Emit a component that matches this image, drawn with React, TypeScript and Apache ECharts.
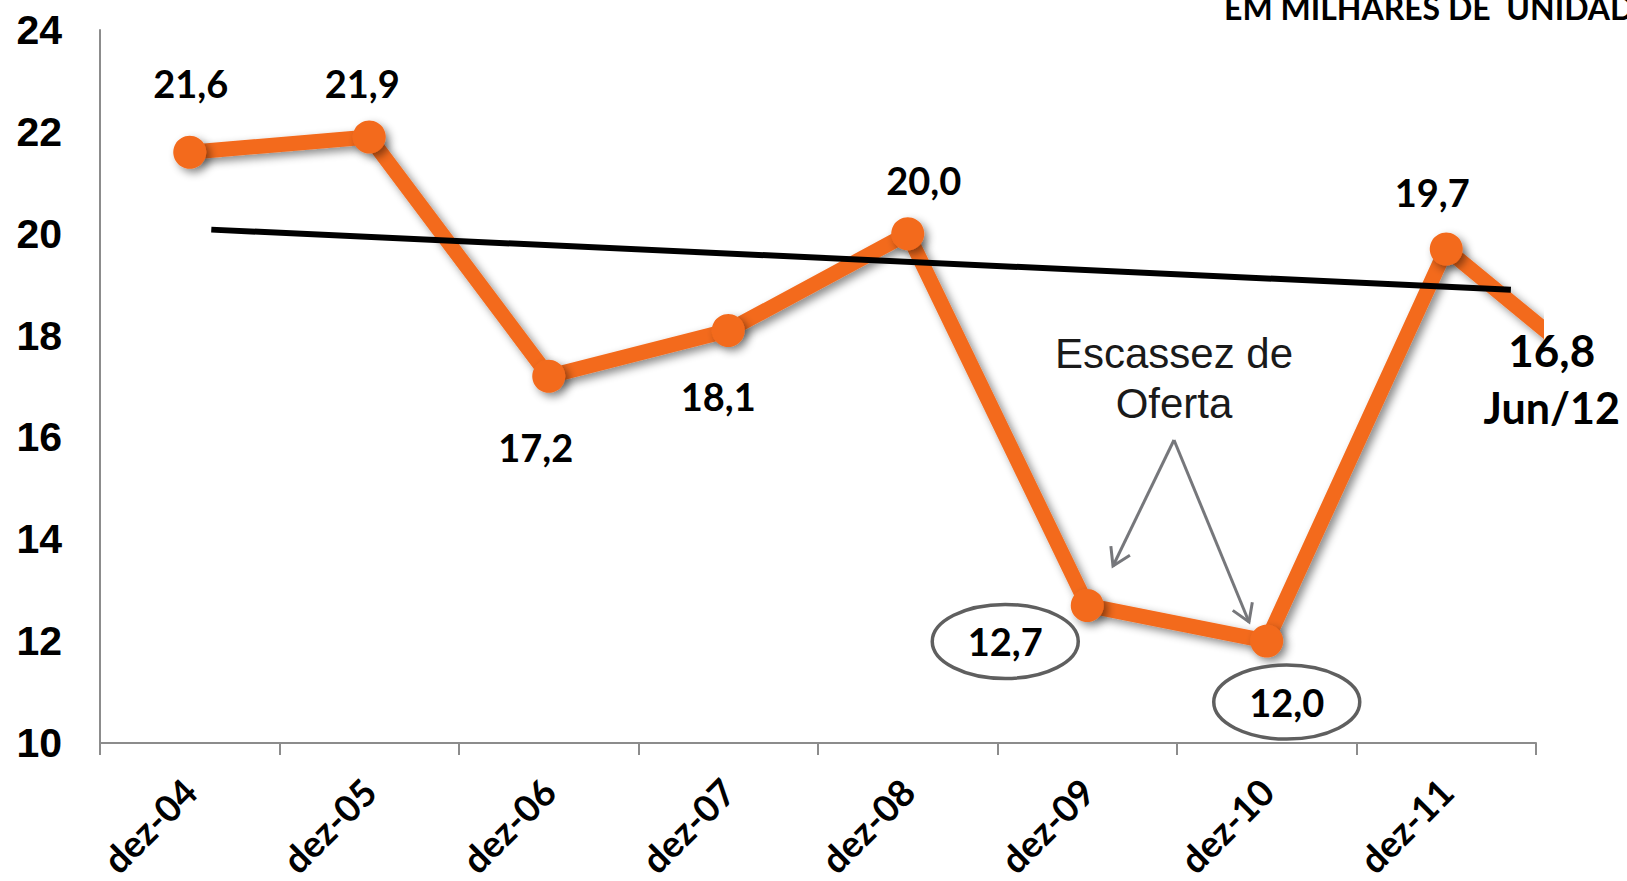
import React, { useEffect, useRef } from "react";
import * as echarts from "echarts";

// Vendas anuais (em milhares de unidades)
const categories = ["dez-04", "dez-05", "dez-06", "dez-07", "dez-08", "dez-09", "dez-10", "dez-11", "Jun/12"];
const values = [21.6, 21.9, 17.2, 18.1, 20.0, 12.7, 12.0, 19.7, 16.8];
const yMin = 10;
const yMax = 24;
const yStep = 2;
// Linha de tendência (posição no eixo de categorias, valor)
const trendStart = [0.62, 20.08];
const trendEnd = [7.86, 18.9];
// Pontos destacados com elipse
const circledIdx = [5, 6];
const titleText = "EM MILHARES DE  UNIDADES";
const noteLines = ["Escassez de", "Oferta"];

// Deslocamento dos rótulos em relação a cada ponto (px)
const labelOffsets: number[][] = [
  [1, -69], [-7, -54], [-13, 71], [-10, 66], [16, -54], [-82, 36], [20, 61], [-14, -57], [-74, -47],
];

const ORANGE = "#F36B1E";
const AXIS_GRAY = "#8c8c8c";
const fmt = (v: number) => v.toFixed(1).replace(".", ",");

export default function App() {
  const ref = useRef<HTMLDivElement>(null);

  useEffect(() => {
    const chart = echarts.init(ref.current!, null, { renderer: "svg" });
    const visibleCount = 8;

    const lineData = values.map((v, i) => ({
      value: [i + 0.5, v],
      label: { show: i < visibleCount, offset: labelOffsets[i] },
    }));

    chart.setOption({
      animation: false,
      grid: { left: 100, right: 91, top: 30, bottom: 136, containLabel: false },
      xAxis: [
        {
          type: "category",
          data: categories.slice(0, visibleCount),
          boundaryGap: true,
          axisLine: { show: true, lineStyle: { color: AXIS_GRAY, width: 2 } },
          axisTick: { show: true, length: 12, interval: 0, lineStyle: { color: AXIS_GRAY, width: 2 } },
          axisLabel: {
            interval: 0,
            rotate: 45,
            margin: 42,
            fontSize: 37,
            fontWeight: "bold",
            fontFamily: "Lato",
            color: "#000",
          },
          splitLine: { show: false },
        },
        { type: "value", min: 0, max: visibleCount, show: false },
      ],
      yAxis: {
        type: "value",
        min: yMin,
        max: yMax,
        interval: yStep,
        axisLine: { show: true, lineStyle: { color: AXIS_GRAY, width: 2 } },
        axisTick: { show: false },
        splitLine: { show: false },
        axisLabel: {
          margin: 38,
          fontSize: 41,
          fontWeight: "bold",
          fontFamily: "Liberation Sans",
          color: "#000",
        },
      },
      series: [
        {
          type: "line",
          xAxisIndex: 1,
          yAxisIndex: 0,
          data: lineData,
          clip: true,
          symbol: "circle",
          symbolSize: 33,
          z: 3,
          lineStyle: {
            color: ORANGE,
            width: 15,
            shadowColor: "rgba(0,0,0,0.45)",
            shadowBlur: 8,
            shadowOffsetX: 4,
            shadowOffsetY: 4,
          },
          itemStyle: {
            color: ORANGE,
            shadowColor: "rgba(0,0,0,0.45)",
            shadowBlur: 8,
            shadowOffsetX: 4,
            shadowOffsetY: 4,
          },
          label: {
            show: true,
            position: "inside",
            formatter: (p: any) => fmt(p.value[1]),
            fontSize: 38,
            fontWeight: "bold",
            fontFamily: "Lato",
            color: "#000",
          },
        },
        {
          type: "line",
          xAxisIndex: 1,
          yAxisIndex: 0,
          data: [trendStart, trendEnd],
          symbol: "none",
          z: 5,
          lineStyle: { color: "#000", width: 6 },
        },
      ],
    });

    const px = (x: number, y: number) =>
      chart.convertToPixel({ xAxisIndex: 1, yAxisIndex: 0 }, [x, y]) as number[];

    const graphics: any[] = [];

    // Elipses em volta dos rótulos destacados
    circledIdx.forEach((i) => {
      const p = px(i + 0.5, values[i]);
      graphics.push({
        type: "ellipse",
        shape: { cx: p[0] + labelOffsets[i][0], cy: p[1] + labelOffsets[i][1], rx: 73, ry: 37 },
        style: { fill: "none", stroke: "#5f5f5f", lineWidth: 3.5 },
        z: 10,
      });
    });

    // Rótulo do último ponto (fora da área do gráfico)
    const last = values.length - 1;
    const pl = px(last + 0.5, values[last]);
    graphics.push({
      type: "text",
      x: pl[0] + labelOffsets[last][0],
      y: pl[1] + labelOffsets[last][1],
      style: {
        text: fmt(values[last]),
        align: "center",
        verticalAlign: "middle",
        font: "bold 44px Lato",
        fill: "#000",
      },
      z: 10,
    });
    graphics.push({
      type: "text",
      x: pl[0] + labelOffsets[last][0],
      y: pl[1] + labelOffsets[last][1] + 58,
      style: {
        text: categories[last],
        align: "center",
        verticalAlign: "middle",
        font: "bold 43px Lato",
        fill: "#000",
      },
      z: 10,
    });

    // Título (unidade)
    graphics.push({
      type: "text",
      x: 1224,
      y: 7,
      style: {
        text: titleText,
        align: "left",
        verticalAlign: "middle",
        font: "bold 32px Lato",
        fill: "#000",
      },
      z: 10,
    });

    // Anotação "Escassez de Oferta" com setas
    noteLines.forEach((t, k) => {
      graphics.push({
        type: "text",
        x: 1174,
        y: 353 + k * 50,
        style: {
          text: t,
          align: "center",
          verticalAlign: "middle",
          font: "42px 'Liberation Sans'",
          fill: "#1a1a1a",
        },
        z: 10,
      });
    });

    const arrowColor = "#76777b";
    const origin = [1174, 440];
    const tips = [
      [1113, 566],
      [1249, 622],
    ];
    tips.forEach((tip) => {
      graphics.push({
        type: "line",
        shape: { x1: origin[0], y1: origin[1], x2: tip[0], y2: tip[1] },
        style: { stroke: arrowColor, lineWidth: 3 },
        z: 10,
      });
      const ang = Math.atan2(origin[1] - tip[1], origin[0] - tip[0]);
      const len = 20;
      const spread = (32 * Math.PI) / 180;
      graphics.push({
        type: "polyline",
        shape: {
          points: [
            [tip[0] + len * Math.cos(ang + spread), tip[1] + len * Math.sin(ang + spread)],
            [tip[0], tip[1]],
            [tip[0] + len * Math.cos(ang - spread), tip[1] + len * Math.sin(ang - spread)],
          ],
        },
        style: { stroke: arrowColor, lineWidth: 3, fill: "none" },
        z: 10,
      });
    });

    chart.setOption({ graphic: graphics });

    return () => chart.dispose();
  }, []);

  return (
    <div
      ref={ref}
      style={{ position: "fixed", left: 0, top: 0, width: 1627, height: 881, background: "#fff" }}
    />
  );
}
